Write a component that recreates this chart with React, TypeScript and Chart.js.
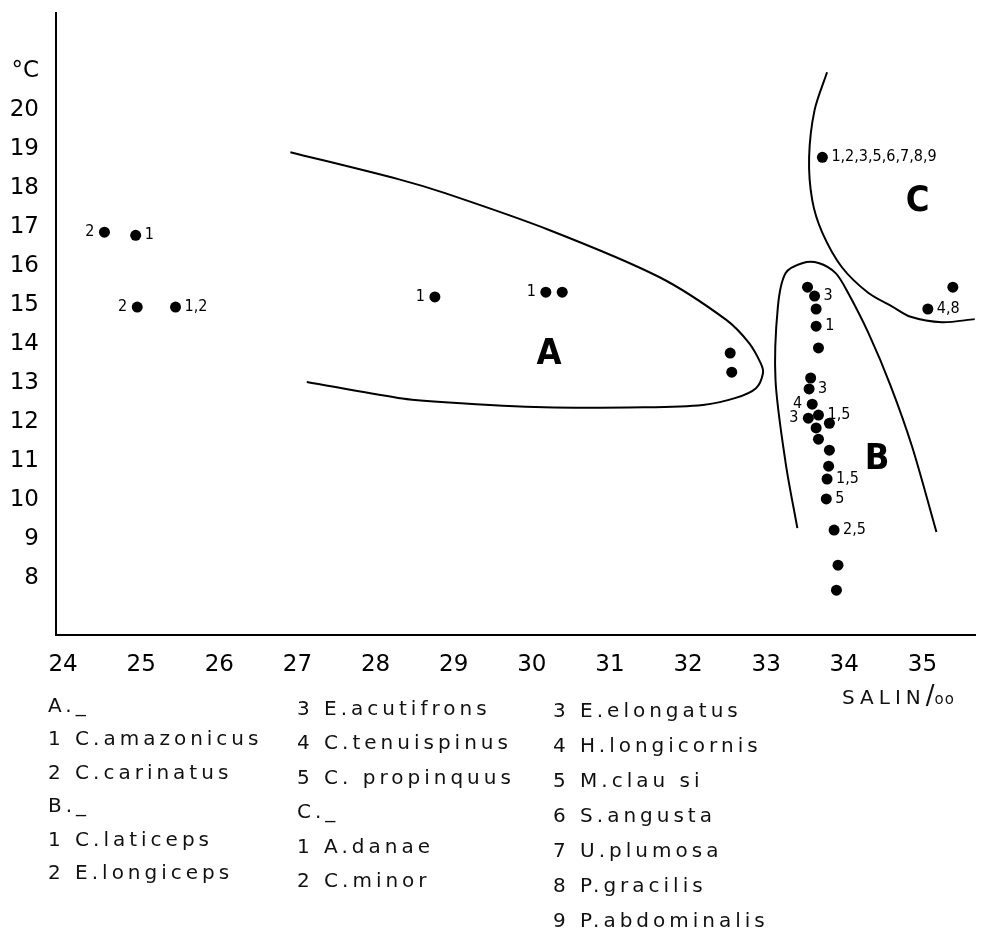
import React, { useEffect, useRef } from 'react';
import { Chart, registerables } from 'chart.js';

Chart.register(...registerables);

// Axis ranges and ticks
const xRange = [23.91, 35.68];
const yRange = [6.54, 22.49];
const xTicks = [24, 25, 26, 27, 28, 29, 30, 31, 32, 33, 34, 35];
const yTicks = [8, 9, 10, 11, 12, 13, 14, 15, 16, 17, 18, 19, 20];
const yUnitValue = 21;
const yUnitLabel = '°C';

// Observations: salinity (x), temperature (y), species label, label side
const pointX = [24.53, 24.93, 24.95, 25.44, 28.76, 30.18, 30.39, 32.54, 32.56, 33.72, 35.39, 35.07, 33.53, 33.62, 33.64, 33.64, 33.67, 33.57, 33.55, 33.59, 33.54, 33.67, 33.81, 33.64, 33.67, 33.81, 33.80, 33.78, 33.77, 33.87, 33.92, 33.90];
const pointY = [16.87, 16.79, 14.95, 14.95, 15.21, 15.33, 15.33, 13.77, 13.28, 18.79, 15.46, 14.90, 15.46, 15.23, 14.90, 14.46, 13.90, 13.13, 12.85, 12.46, 12.10, 12.18, 11.97, 11.85, 11.56, 11.28, 10.87, 10.54, 10.03, 9.23, 8.33, 7.69];
const pointLabels = ['2', '1', '2', '1,2', '1', '1', '', '', '', '1,2,3,5,6,7,8,9', '', '4,8', '', '3', '', '1', '', '', '3', '4', '3', '1,5', '', '', '', '', '', '1,5', '5', '2,5', '', ''];
const pointLabelSide = ['l', 'r', 'l', 'r', 'l', 'l', 'r', 'r', 'r', 'r', 'r', 'r', 'r', 'r', 'r', 'r', 'r', 'r', 'r', 'l', 'l', 'r', 'r', 'r', 'r', 'r', 'r', 'r', 'r', 'r', 'r', 'r'];

// Region outlines
const curveA = [[26.91, 18.92], [28.29, 18.23], [28.89, 17.87], [30.23, 16.92], [31.63, 15.72], [32.49, 14.62], [32.78, 14.03], [32.93, 13.51], [32.96, 13.26], [32.87, 12.87], [32.61, 12.62], [32.19, 12.44], [31.43, 12.38], [30.16, 12.38], [28.89, 12.51], [28.29, 12.62], [27.12, 13.03]];
const curveB = [[33.40, 9.28], [33.25, 10.95], [33.12, 13.08], [33.15, 14.95], [33.25, 15.82], [33.47, 16.08], [33.67, 16.08], [33.89, 15.82], [34.05, 15.31], [34.31, 14.28], [34.59, 12.95], [34.87, 11.36], [35.18, 9.18]];
const curveC = [[33.78, 20.97], [33.62, 20.0], [33.55, 18.79], [33.59, 17.69], [33.72, 16.85], [33.97, 15.97], [34.31, 15.31], [34.61, 14.97], [34.85, 14.70], [35.25, 14.56], [35.67, 14.64]];

// Region letters
const regionNames = ['A', 'B', 'C'];
const regionX = [30.22, 34.42, 34.94];
const regionY = [13.72, 11.03, 17.64];

// Key text
const keyCol1 = ['A._', '1 C.amazonicus', '2 C.carinatus', 'B._', '1 C.laticeps', '2 E.longiceps'];
const keyCol2 = ['3 E.acutifrons', '4 C.tenuispinus', '5 C. propinquus', 'C._', '1 A.danae', '2 C.minor'];
const keyCol3 = ['3 E.elongatus', '4 H.longicornis', '5 M.clau si', '6 S.angusta', '7 U.plumosa', '8 P.gracilis', '9 P.abdominalis'];
const xAxisTitle = 'SALIN';
const xAxisTitleUnit = 'oo';

const toXY = (c: number[][]) => c.map(([x, y]) => ({ x, y }));

const labelPlugin = {
  id: 'pointLabels',
  afterDatasetsDraw(chart: any) {
    const ctx = chart.ctx;
    const meta = chart.getDatasetMeta(3);
    ctx.save();
    ctx.fillStyle = '#000';
    ctx.font = '16px "DejaVu Sans Condensed", "DejaVu Sans", sans-serif';
    ctx.textBaseline = 'middle';
    meta.data.forEach((el: any, i: number) => {
      const t = pointLabels[i];
      if (!t) return;
      if (pointLabelSide[i] === 'l') {
        ctx.textAlign = 'right';
        ctx.fillText(t, el.x - 10, el.y);
      } else {
        ctx.textAlign = 'left';
        ctx.fillText(t, el.x + 9, el.y);
      }
    });
    const xs = chart.scales.x;
    const ys = chart.scales.y;
    ctx.font = 'bold 36px "DejaVu Sans Condensed", "DejaVu Sans", sans-serif';
    ctx.textAlign = 'center';
    regionNames.forEach((n, i) => {
      ctx.fillText(n, xs.getPixelForValue(regionX[i]), ys.getPixelForValue(regionY[i]));
    });
    ctx.restore();
  },
};

function App() {
  const ref = useRef<HTMLCanvasElement | null>(null);

  useEffect(() => {
    document.body.style.margin = '0';
    if (!ref.current) return;
    const lineDs = (pts: number[][]) => ({
      type: 'line' as const,
      data: toXY(pts),
      borderColor: '#000',
      borderWidth: 2,
      pointRadius: 0,
      tension: 0.3,
      fill: false,
    });
    const chart = new Chart(ref.current, {
      type: 'scatter',
      data: {
        datasets: [
          lineDs(curveA) as any,
          lineDs(curveB) as any,
          lineDs(curveC) as any,
          {
            type: 'scatter',
            data: pointX.map((x, i) => ({ x, y: pointY[i] })),
            pointRadius: 5.5,
            pointHoverRadius: 5.5,
            backgroundColor: '#000',
            borderColor: '#000',
            borderWidth: 0,
          },
        ],
      },
      options: {
        responsive: false,
        animation: false,
        events: [],
        layout: { padding: { top: 13, right: 0, left: 0, bottom: 0 } },
        plugins: { legend: { display: false }, tooltip: { enabled: false } },
        scales: {
          x: {
            type: 'linear',
            min: xRange[0],
            max: xRange[1],
            grid: { display: false, drawTicks: false },
            border: { display: true, color: '#000', width: 2 },
            afterBuildTicks: (s: any) => {
              s.ticks = xTicks.map((v) => ({ value: v }));
            },
            afterFit: (s: any) => {
              s.height = 297;
              s.paddingLeft = 0;
              s.paddingRight = 0;
            },
            ticks: {
              autoSkip: false,
              maxRotation: 0,
              padding: 16,
              color: '#000',
              font: { family: '"DejaVu Sans", sans-serif', size: 23 },
              callback: (v: any) => String(v),
            },
          },
          y: {
            type: 'linear',
            min: yRange[0],
            max: yRange[1],
            grid: { display: false, drawTicks: false },
            border: { display: true, color: '#000', width: 2 },
            afterBuildTicks: (s: any) => {
              s.ticks = [...yTicks, yUnitValue].map((v) => ({ value: v }));
            },
            afterFit: (s: any) => {
              s.width = 56;
              s.paddingTop = 0;
              s.paddingBottom = 0;
            },
            ticks: {
              autoSkip: false,
              padding: 17,
              color: '#000',
              font: { family: '"DejaVu Sans", sans-serif', size: 23 },
              callback: (v: any) => (v === yUnitValue ? yUnitLabel : String(v)),
            },
          },
        },
      },
      plugins: [labelPlugin],
    });
    return () => chart.destroy();
  }, []);

  const keyStyle: React.CSSProperties = {
    position: 'absolute',
    fontFamily: '"DejaVu Sans", sans-serif',
    fontSize: 20,
    letterSpacing: '4px',
    color: '#111',
    whiteSpace: 'nowrap',
    lineHeight: '24px',
  };

  const col = (lines: string[], left: number, top: number, step: number) =>
    lines.map((t, i) => (
      <div key={t + i} style={{ ...keyStyle, left, top: top + i * step - 12 }}>
        {t}
      </div>
    ));

  return (
    <div style={{ position: 'relative', width: 981, height: 932, background: '#fff', overflow: 'hidden' }}>
      <canvas ref={ref} width={981} height={932} style={{ position: 'absolute', left: 0, top: 0 }} />
      {col(keyCol1, 48, 705, 33.4)}
      {col(keyCol2, 297, 708, 34.4)}
      {col(keyCol3, 553, 710, 35)}
      <div style={{ ...keyStyle, left: 842, top: 683, letterSpacing: '5px' }}>
        {xAxisTitle}
        <span style={{ fontSize: 26, letterSpacing: '0px' }}>/</span>
        <span style={{ fontSize: 15, letterSpacing: '1px' }}>{xAxisTitleUnit}</span>
      </div>
    </div>
  );
}

export default App;
